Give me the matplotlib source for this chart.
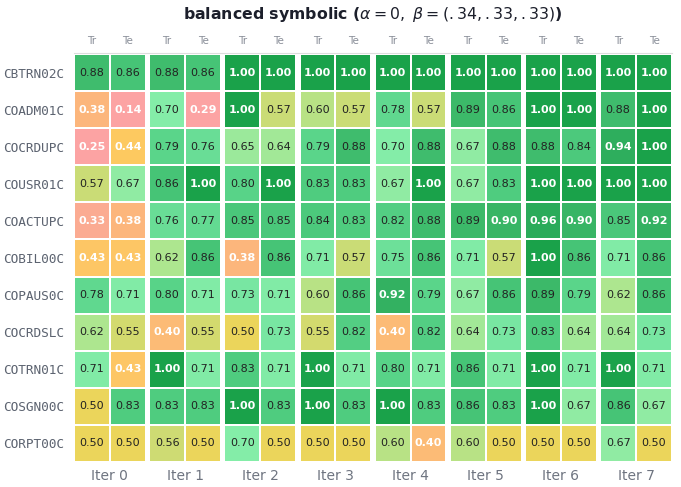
import numpy as np
import matplotlib
matplotlib.use("Agg")
import matplotlib.pyplot as plt
from matplotlib.colors import LinearSegmentedColormap
from matplotlib.lines import Line2D

programs = ["CBTRN02C", "COADM01C", "COCRDUPC", "COUSR01C", "COACTUPC", "COBIL00C",
            "COPAUS0C", "COCRDSLC", "COTRN01C", "COSGN00C", "CORPT00C"]
iters = ["Iter 0", "Iter 1", "Iter 2", "Iter 3", "Iter 4", "Iter 5", "Iter 6", "Iter 7"]
splits = ["Tr", "Te"]

# rows = programs, columns = iterations
train = np.array([
    [0.88, 0.88, 1.00, 1.00, 1.00, 1.00, 1.00, 1.00],
    [0.38, 0.70, 1.00, 0.60, 0.78, 0.89, 1.00, 0.88],
    [0.25, 0.79, 0.65, 0.79, 0.70, 0.67, 0.88, 0.94],
    [0.57, 0.86, 0.80, 0.83, 0.67, 0.67, 1.00, 1.00],
    [0.33, 0.76, 0.85, 0.84, 0.82, 0.89, 0.96, 0.85],
    [0.43, 0.62, 0.38, 0.71, 0.75, 0.71, 1.00, 0.71],
    [0.78, 0.80, 0.73, 0.60, 0.92, 0.67, 0.89, 0.62],
    [0.62, 0.40, 0.50, 0.55, 0.40, 0.64, 0.83, 0.64],
    [0.71, 1.00, 0.83, 1.00, 0.80, 0.86, 1.00, 1.00],
    [0.50, 0.83, 1.00, 1.00, 1.00, 0.86, 1.00, 0.86],
    [0.50, 0.56, 0.70, 0.50, 0.60, 0.60, 0.50, 0.67],
])
test = np.array([
    [0.86, 0.86, 1.00, 1.00, 1.00, 1.00, 1.00, 1.00],
    [0.14, 0.29, 0.57, 0.57, 0.57, 0.86, 1.00, 1.00],
    [0.44, 0.76, 0.64, 0.88, 0.88, 0.88, 0.84, 1.00],
    [0.67, 1.00, 1.00, 0.83, 1.00, 0.83, 1.00, 1.00],
    [0.38, 0.77, 0.85, 0.83, 0.88, 0.90, 0.90, 0.92],
    [0.43, 0.86, 0.86, 0.57, 0.86, 0.57, 0.86, 0.86],
    [0.71, 0.71, 0.71, 0.86, 0.79, 0.86, 0.79, 0.86],
    [0.55, 0.55, 0.73, 0.82, 0.82, 0.73, 0.64, 0.73],
    [0.43, 0.71, 0.71, 0.71, 0.71, 0.71, 0.71, 0.71],
    [0.83, 0.83, 0.83, 0.83, 0.83, 0.83, 0.67, 0.67],
    [0.50, 0.50, 0.50, 0.50, 0.40, 0.50, 0.50, 0.50],
])

anchors = [
    (0.00, "#fca3a3"), (0.30, "#fca3a3"), (0.33, "#fbab92"), (0.38, "#fcb67c"),
    (0.40, "#fcbb76"), (0.44, "#fdc960"), (0.50, "#ecd55a"), (0.57, "#c9dc77"),
    (0.62, "#ade68f"), (0.67, "#90eba3"), (0.70, "#85eda8"), (0.73, "#78e6a2"),
    (0.79, "#5bd58b"), (0.86, "#47c577"), (0.90, "#38b565"), (0.96, "#2aab5a"),
    (1.00, "#1aa24a"),
]
cmap = LinearSegmentedColormap.from_list("score", anchors)

W, H = 681, 487
fig = plt.figure(figsize=(W / 100, H / 100), dpi=100)

left, right, top, bottom = 74, 672, 54, 462
gap = 3.4
n = len(iters)
gw = (right - left - gap * (n - 1)) / n
nrows = len(programs)

for k in range(n):
    x0 = left + k * (gw + gap)
    ax = fig.add_axes([x0 / W, 1 - bottom / H, gw / W, (bottom - top) / H])
    vals = np.column_stack([train[:, k], test[:, k]])
    ax.pcolormesh(np.arange(3), np.arange(nrows + 1), vals, cmap=cmap, vmin=0, vmax=1,
                  edgecolors="white", linewidth=1.1)
    ax.set_xlim(0, 2)
    ax.set_ylim(nrows, 0)
    for i in range(nrows):
        for j in range(2):
            v = vals[i, j]
            strong = v < 0.45 or v >= 0.895
            ax.text(j + 0.5, i + 0.5, f"{v:.2f}", ha="center", va="center",
                    fontsize=8, color="white" if strong else "#222222",
                    fontweight="bold" if strong else "normal")
    for s in ax.spines.values():
        s.set_visible(False)
    ax.set_xticks([0.5, 1.5])
    ax.set_xticklabels(splits, fontsize=7.5, color="#8a8f99")
    ax.xaxis.tick_top()
    ax.tick_params(axis="x", length=0, pad=6)
    ax.set_xlabel(iters[k], fontsize=10, color="#6e7480", labelpad=5)
    if k == 0:
        ax.set_yticks(np.arange(nrows) + 0.5)
        ax.set_yticklabels(programs, family="DejaVu Sans Mono", fontsize=9.2, color="#5c6370")
        ax.tick_params(axis="y", length=0, pad=7)
    else:
        ax.set_yticks([])

fig.add_artist(Line2D([left / W, right / W], [1 - 52.7 / H, 1 - 52.7 / H],
                      color="#dddddd", linewidth=0.8))

fig.text((left + right) / 2 / W, 1 - 14 / H,
         r"balanced symbolic ($\alpha=0,\ \beta=(.34,.33,.33)$)",
         ha="center", va="center", fontsize=11.3, fontweight="bold", color="#1c1f2b")

fig.savefig("out.png", dpi=100)
